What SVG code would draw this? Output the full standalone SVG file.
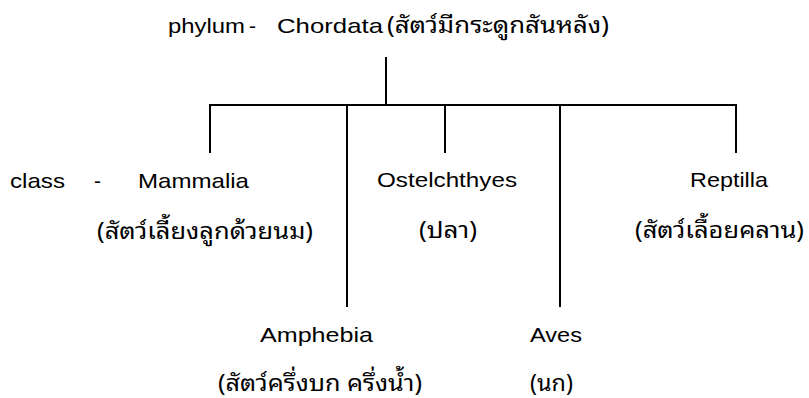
<svg xmlns="http://www.w3.org/2000/svg" width="809" height="398" viewBox="0 0 809 398">
<style>
.en{font-family:"Liberation Sans",Arial,sans-serif;font-size:21px;fill:#000}
.th{font-family:"Noto Sans Thai Looped","Noto Sans Thai","Tahoma","Noto Sans","Liberation Sans",sans-serif;font-size:23px;fill:#000}
.ln{stroke:#000;stroke-width:2;fill:none;stroke-linecap:butt}
</style>
<rect width="809" height="398" fill="#fff"/>
<g id="connectors">
<line class="ln" x1="386" y1="57" x2="386" y2="105"/>
<line class="ln" x1="209" y1="105" x2="737" y2="105"/>
<line class="ln" x1="210" y1="104" x2="210" y2="153"/>
<line class="ln" x1="347" y1="104" x2="347" y2="307"/>
<line class="ln" x1="445" y1="104" x2="445" y2="153"/>
<line class="ln" x1="560" y1="104" x2="560" y2="307"/>
<line class="ln" x1="736" y1="104" x2="736" y2="153"/>
</g>
<g id="node-phylum">
<text class="en" x="168" y="33" textLength="77" lengthAdjust="spacingAndGlyphs">phylum</text>
<text class="en" x="249" y="33" textLength="7" lengthAdjust="spacingAndGlyphs">-</text>
<text class="en" x="277" y="33" textLength="106" lengthAdjust="spacingAndGlyphs">Chordata</text>
<text class="th" x="387" y="33" textLength="222" lengthAdjust="spacingAndGlyphs">(สัตว์มีกระดูกสันหลัง)</text>
</g>
<g id="node-mammalia">
<text class="en" x="10" y="188" textLength="55" lengthAdjust="spacingAndGlyphs">class</text>
<text class="en" x="94" y="188" textLength="7" lengthAdjust="spacingAndGlyphs">-</text>
<text class="en" x="138" y="188" textLength="111" lengthAdjust="spacingAndGlyphs">Mammalia</text>
<text class="th" x="97" y="239" textLength="216" lengthAdjust="spacingAndGlyphs">(สัตว์เลี้ยงลูกด้วยนม)</text>
</g>
<g id="node-osteichthyes">
<text class="en" x="377" y="187" textLength="140" lengthAdjust="spacingAndGlyphs">Ostelchthyes</text>
<text class="th" x="419" y="238" textLength="58" lengthAdjust="spacingAndGlyphs">(ปลา)</text>
</g>
<g id="node-reptilla">
<text class="en" x="690" y="187" textLength="78" lengthAdjust="spacingAndGlyphs">Reptilla</text>
<text class="th" x="635" y="238" textLength="169" lengthAdjust="spacingAndGlyphs">(สัตว์เลื้อยคลาน)</text>
</g>
<g id="node-amphebia">
<text class="en" x="260" y="342" textLength="113" lengthAdjust="spacingAndGlyphs">Amphebia</text>
<text class="th" x="218" y="391" textLength="204" lengthAdjust="spacingAndGlyphs">(สัตว์ครึ่งบก ครึ่งน้ำ)</text>
</g>
<g id="node-aves">
<text class="en" x="530" y="342" textLength="52" lengthAdjust="spacingAndGlyphs">Aves</text>
<text class="th" x="530" y="391" textLength="43" lengthAdjust="spacingAndGlyphs">(นก)</text>
</g>
</svg>
